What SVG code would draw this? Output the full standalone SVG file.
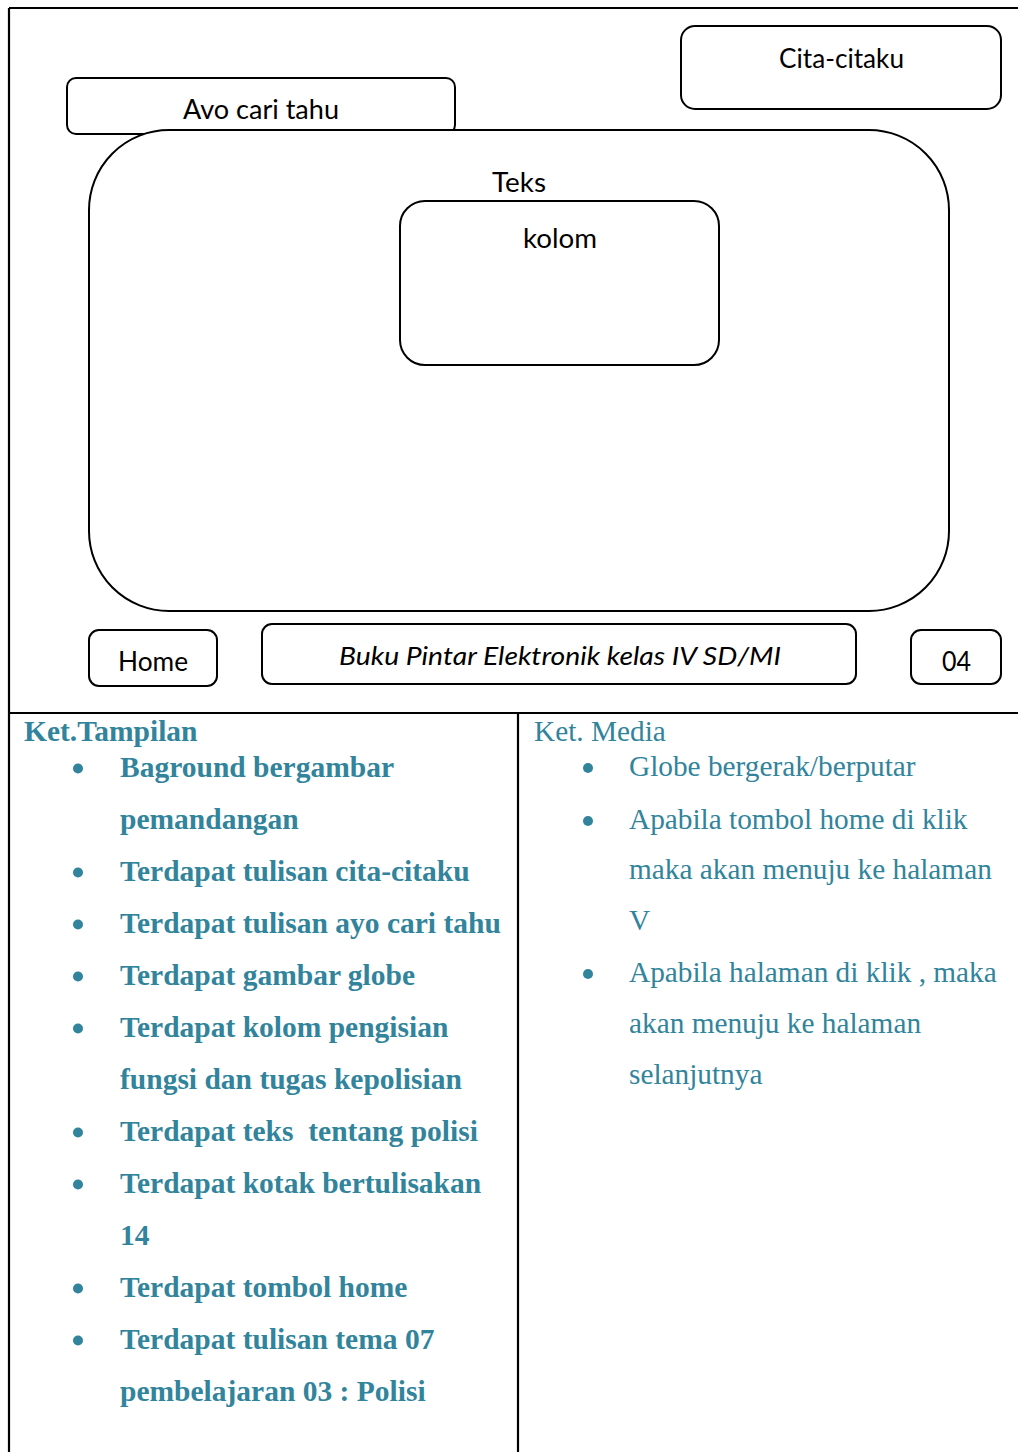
<svg xmlns="http://www.w3.org/2000/svg" width="1018" height="1452" viewBox="0 0 1018 1452">
<style>
.box{fill:#fff;stroke:#000;stroke-width:2}
.frame{stroke:#000;stroke-width:2.2;fill:none}
.ui{font-family:Lato,"Liberation Sans",sans-serif;font-size:26px;fill:#000;text-anchor:middle}
.it{font-style:italic}
.tb{font-family:"Liberation Serif","Times New Roman",serif;font-size:29.5px;font-weight:bold;fill:#31849B}
.tr{font-family:"Liberation Serif","Times New Roman",serif;font-size:29.3px;fill:#31849B}
.dot{fill:#31849B}
</style>
<rect width="1018" height="1452" fill="#fff"/>
<g id="frame">
<path class="frame" d="M9 8 H1018 M9 8 V1452 M9 713 H1018 M518 713 V1452"/>
</g>
<g id="ayo-cari-tahu">
<rect class="box" x="67" y="78" width="388" height="56" rx="9"/>
<text class="ui" x="261" y="119" textLength="156" lengthAdjust="spacingAndGlyphs">Avo cari tahu</text>
</g>
<g id="cita-citaku">
<rect class="box" x="681" y="26" width="320" height="83" rx="14"/>
<text class="ui" x="841.5" y="68" textLength="125" lengthAdjust="spacingAndGlyphs">Cita-citaku</text>
</g>
<g id="main-panel">
<rect class="box" x="89" y="130" width="860" height="481" rx="80"/>
<text class="ui" x="519" y="192" textLength="54" lengthAdjust="spacingAndGlyphs">Teks</text>
</g>
<g id="kolom">
<rect class="box" x="400" y="201" width="319" height="164" rx="25"/>
<text class="ui" x="560" y="248" textLength="74" lengthAdjust="spacingAndGlyphs">kolom</text>
</g>
<g id="home">
<rect class="box" x="89" y="630" width="128" height="56" rx="10"/>
<text class="ui" x="153" y="671" textLength="70" lengthAdjust="spacingAndGlyphs">Home</text>
</g>
<g id="judul">
<rect class="box" x="262" y="624" width="594" height="60" rx="10"/>
<text class="ui it" x="560" y="665" textLength="442" lengthAdjust="spacingAndGlyphs">Buku Pintar Elektronik kelas IV SD/MI</text>
</g>
<g id="halaman">
<rect class="box" x="911" y="630" width="90" height="54" rx="10"/>
<text class="ui" x="956.5" y="671" textLength="29" lengthAdjust="spacingAndGlyphs">04</text>
</g>
<g id="ket-tampilan">
<text class="tb" x="24" y="741">Ket.Tampilan</text>
<circle class="dot" cx="78" cy="768.5" r="5"/>
<text class="tb" x="120" y="777">Baground bergambar</text>
<text class="tb" x="120" y="829">pemandangan</text>
<circle class="dot" cx="78" cy="872.5" r="5"/>
<text class="tb" x="120" y="881">Terdapat tulisan cita-citaku</text>
<circle class="dot" cx="78" cy="924.5" r="5"/>
<text class="tb" x="120" y="933">Terdapat tulisan ayo cari tahu</text>
<circle class="dot" cx="78" cy="976.5" r="5"/>
<text class="tb" x="120" y="985">Terdapat gambar globe</text>
<circle class="dot" cx="78" cy="1028.5" r="5"/>
<text class="tb" x="120" y="1037">Terdapat kolom pengisian</text>
<text class="tb" x="120" y="1089">fungsi dan tugas kepolisian</text>
<circle class="dot" cx="78" cy="1132.5" r="5"/>
<text class="tb" x="120" y="1141" xml:space="preserve">Terdapat teks  tentang polisi</text>
<circle class="dot" cx="78" cy="1184.5" r="5"/>
<text class="tb" x="120" y="1193">Terdapat kotak bertulisakan</text>
<text class="tb" x="120" y="1245">14</text>
<circle class="dot" cx="78" cy="1288.5" r="5"/>
<text class="tb" x="120" y="1297">Terdapat tombol home</text>
<circle class="dot" cx="78" cy="1340.5" r="5"/>
<text class="tb" x="120" y="1349">Terdapat tulisan tema 07</text>
<text class="tb" x="120" y="1401">pembelajaran 03 : Polisi</text>
</g>
<g id="ket-media">
<text class="tr" x="534" y="741">Ket. Media</text>
<circle class="dot" cx="588" cy="768" r="5"/>
<text class="tr" x="629" y="776">Globe bergerak/berputar</text>
<circle class="dot" cx="588" cy="821" r="5"/>
<text class="tr" x="629" y="829">Apabila tombol home di klik</text>
<text class="tr" x="629" y="879">maka akan menuju ke halaman</text>
<text class="tr" x="629" y="930">V</text>
<circle class="dot" cx="588" cy="974" r="5"/>
<text class="tr" x="629" y="982">Apabila halaman di klik , maka</text>
<text class="tr" x="629" y="1033">akan menuju ke halaman</text>
<text class="tr" x="629" y="1084">selanjutnya</text>
</g>
</svg>
